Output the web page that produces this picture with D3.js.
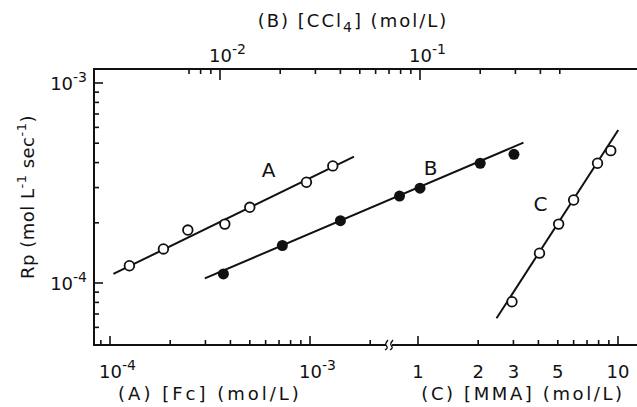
<!DOCTYPE html>
<html>
<head>
<meta charset="utf-8">
<script src="https://cdn.jsdelivr.net/npm/d3@7"></script>
<style>
  body { margin: 0; background: #fff; }
  svg text { font-family: "DejaVu Sans", sans-serif; fill: #111; }
</style>
</head>
<body>
<div id="chart"></div>
<script>
// ---- data ----
const fcConc = [1.25e-4, 1.85e-4, 2.45e-4, 3.75e-4, 5.0e-4, 9.6e-4, 1.3e-3];
const rpA = [1.22e-4, 1.48e-4, 1.84e-4, 1.97e-4, 2.39e-4, 3.19e-4, 3.85e-4];
const ccl4Conc = [1.04e-2, 2.05e-2, 4.0e-2, 7.9e-2, 1.0e-1, 2.0e-1, 2.95e-1];
const rpB = [1.11e-4, 1.54e-4, 2.05e-4, 2.72e-4, 2.98e-4, 3.97e-4, 4.4e-4];
const mmaConc = [2.95, 4.05, 5.05, 6.0, 7.9, 9.2];
const rpC = [8.06e-5, 1.41e-4, 1.97e-4, 2.6e-4, 3.97e-4, 4.59e-4];

// fitted straight lines (end points)
const fitA = [[1.04e-4, 1.11e-4], [1.66e-3, 4.28e-4]];
const fitB = [[8.4e-3, 1.055e-4], [3.29e-1, 5.03e-4]];
const fitC = [[2.47, 6.66e-5], [10.03, 5.82e-4]];

// tick values
const yMajor = [1e-4, 1e-3];
const yMinor = [6e-5, 7e-5, 8e-5, 9e-5, 2e-4, 3e-4, 4e-4, 5e-4, 6e-4, 7e-4, 8e-4, 9e-4];
const aMajor = [1e-4, 1e-3];
const aMinor = [9e-5, 2e-4, 3e-4, 4e-4, 5e-4, 6e-4, 7e-4, 8e-4, 9e-4, 2e-3];
const bMajor = [1e-2, 1e-1];
const bMinor = [7e-3, 8e-3, 9e-3, 2e-2, 3e-2, 4e-2, 5e-2, 6e-2, 7e-2, 8e-2, 9e-2, 2e-1, 3e-1, 4e-1, 5e-1];
const cMajor = [1, 10];
const cMinor = [2, 3, 4, 5, 6, 7, 8, 9];
const cLabels = [1, 2, 3, 5, 10];

// curve letters: [text, scale key, x value, y value]
const curveNames = [["A", "a", 6.2e-4, 3.67e-4], ["B", "b", 1.13e-1, 3.76e-4], ["C", "c", 4.1, 2.48e-4]];

const W = 637, H = 407;
const frame = { left: 94, top: 69, bottom: 345, right: 637 };

const svg = d3.select("#chart").append("svg")
  .attr("width", W).attr("height", H);

const xA = d3.scaleLog().domain([1e-4, 1e-3]).range([110, 310]);
const xB = d3.scaleLog().domain([1e-2, 1e-1]).range([220, 420]);
const xC = d3.scaleLog().domain([1, 10]).range([418, 618]);
const y = d3.scaleLog().domain([1e-4, 1e-3]).range([283, 83]);
const xs = { a: xA, b: xB, c: xC };

const ink = "#111";
const majorLen = 9, minorLen = 5;

// frame lines
svg.append("line").attr("x1", frame.left).attr("x2", frame.left)
  .attr("y1", frame.top).attr("y2", frame.bottom)
  .attr("stroke", ink).attr("stroke-width", 2);
svg.append("line").attr("x1", frame.left - 1).attr("x2", frame.right)
  .attr("y1", frame.top).attr("y2", frame.top)
  .attr("stroke", ink).attr("stroke-width", 2);
svg.append("line").attr("x1", frame.left - 1).attr("x2", frame.right)
  .attr("y1", frame.bottom).attr("y2", frame.bottom)
  .attr("stroke", ink).attr("stroke-width", 2);

// axis break on bottom
const brk = svg.append("g").attr("transform", `translate(389,${frame.bottom})`);
brk.append("rect").attr("x", -3).attr("y", -2).attr("width", 6).attr("height", 4).attr("fill", "#fff");
[-2.5, 2.5].forEach(dx => {
  brk.append("path")
    .attr("d", `M${dx + 1.5},-5 Q${dx - 2},-1 ${dx},1 Q${dx + 2},3 ${dx - 1.5},5`)
    .attr("fill", "none").attr("stroke", ink).attr("stroke-width", 1.3);
});

function ticksX(scale, vals, len, yBase, dir) {
  svg.append("g").selectAll("line").data(vals).join("line")
    .attr("x1", d => scale(d)).attr("x2", d => scale(d))
    .attr("y1", yBase).attr("y2", yBase + dir * len)
    .attr("stroke", ink).attr("stroke-width", 1.6);
}
ticksX(xA, aMajor, majorLen, frame.bottom, -1);
ticksX(xA, aMinor, minorLen, frame.bottom, -1);
ticksX(xC, cMajor, majorLen, frame.bottom, -1);
ticksX(xC, cMinor, minorLen, frame.bottom, -1);
ticksX(xB, bMajor, majorLen + 2, frame.top, 1);
ticksX(xB, bMinor, minorLen, frame.top, 1);

svg.append("g").selectAll("line").data(yMajor.concat(yMinor)).join("line")
  .attr("x1", frame.left).attr("x2", d => frame.left + (yMajor.includes(d) ? majorLen : minorLen))
  .attr("y1", d => y(d)).attr("y2", d => y(d))
  .attr("stroke", ink).attr("stroke-width", 1.6);

// power-of-ten labels
function powLabel(x, yy, exp, anchor) {
  const t = svg.append("text").attr("x", x).attr("y", yy)
    .attr("text-anchor", anchor).style("font-size", "18px");
  t.append("tspan").text("10");
  t.append("tspan").attr("dy", -8).style("font-size", "14px").text(exp);
  return t;
}
aMajor.forEach(v => powLabel(xA(v) - 11, 378, String(Math.round(Math.log10(v))), "start"));
bMajor.forEach(v => powLabel(xB(v) - 11, 62, String(Math.round(Math.log10(v))), "start"));
yMajor.forEach(v => powLabel(frame.left - 7, y(v) + 7, String(Math.round(Math.log10(v))), "end"));

svg.append("g").selectAll("text").data(cLabels).join("text")
  .attr("x", d => xC(d)).attr("y", 378)
  .attr("text-anchor", "middle").style("font-size", "18px")
  .text(d => d);

// axis titles
svg.append("text").attr("x", 210).attr("y", 400).attr("text-anchor", "middle")
  .style("font-size", "18px").attr("letter-spacing", "3")
  .text("(A)  [Fc]  (mol/L)");
svg.append("text").attr("x", 523).attr("y", 400).attr("text-anchor", "middle")
  .style("font-size", "18px").attr("letter-spacing", "2.6")
  .text("(C)  [MMA]  (mol/L)");

const topTitle = svg.append("text").attr("x", 353).attr("y", 27)
  .attr("text-anchor", "middle").style("font-size", "18px").attr("letter-spacing", "2");
topTitle.append("tspan").text("(B)  [CCl");
topTitle.append("tspan").attr("dy", 5).style("font-size", "14px").text("4");
topTitle.append("tspan").attr("dy", -5).text("]   (mol/L)");

const yTitle = svg.append("text")
  .attr("transform", "translate(34,197) rotate(-90)")
  .attr("text-anchor", "middle").style("font-size", "18px").attr("letter-spacing", "0.5");
yTitle.append("tspan").text("Rp  (mol L");
yTitle.append("tspan").attr("dy", -8).style("font-size", "13px").text("-1");
yTitle.append("tspan").attr("dy", 8).text(" sec");
yTitle.append("tspan").attr("dy", -8).style("font-size", "13px").text("-1");
yTitle.append("tspan").attr("dy", 8).text(")");

// fit lines
const line = svg.append("g").attr("fill", "none").attr("stroke", ink).attr("stroke-width", 2);
line.append("path").attr("d", d3.line().x(d => xA(d[0])).y(d => y(d[1]))(fitA));
line.append("path").attr("d", d3.line().x(d => xB(d[0])).y(d => y(d[1]))(fitB));
line.append("path").attr("d", d3.line().x(d => xC(d[0])).y(d => y(d[1]))(fitC));

// points
svg.append("g").selectAll("circle").data(d3.zip(fcConc, rpA)).join("circle")
  .attr("cx", d => xA(d[0])).attr("cy", d => y(d[1])).attr("r", 4.8)
  .attr("fill", "#fff").attr("stroke", ink).attr("stroke-width", 1.8);
svg.append("g").selectAll("circle").data(d3.zip(ccl4Conc, rpB)).join("circle")
  .attr("cx", d => xB(d[0])).attr("cy", d => y(d[1])).attr("r", 5.5)
  .attr("fill", ink);
svg.append("g").selectAll("circle").data(d3.zip(mmaConc, rpC)).join("circle")
  .attr("cx", d => xC(d[0])).attr("cy", d => y(d[1])).attr("r", 4.8)
  .attr("fill", "#fff").attr("stroke", ink).attr("stroke-width", 1.8);

// curve letters
svg.append("g").selectAll("text").data(curveNames).join("text")
  .attr("x", d => xs[d[1]](d[2])).attr("y", d => y(d[3]) + 7)
  .attr("text-anchor", "middle").style("font-size", "20px")
  .text(d => d[0]);
</script>
</body>
</html>
